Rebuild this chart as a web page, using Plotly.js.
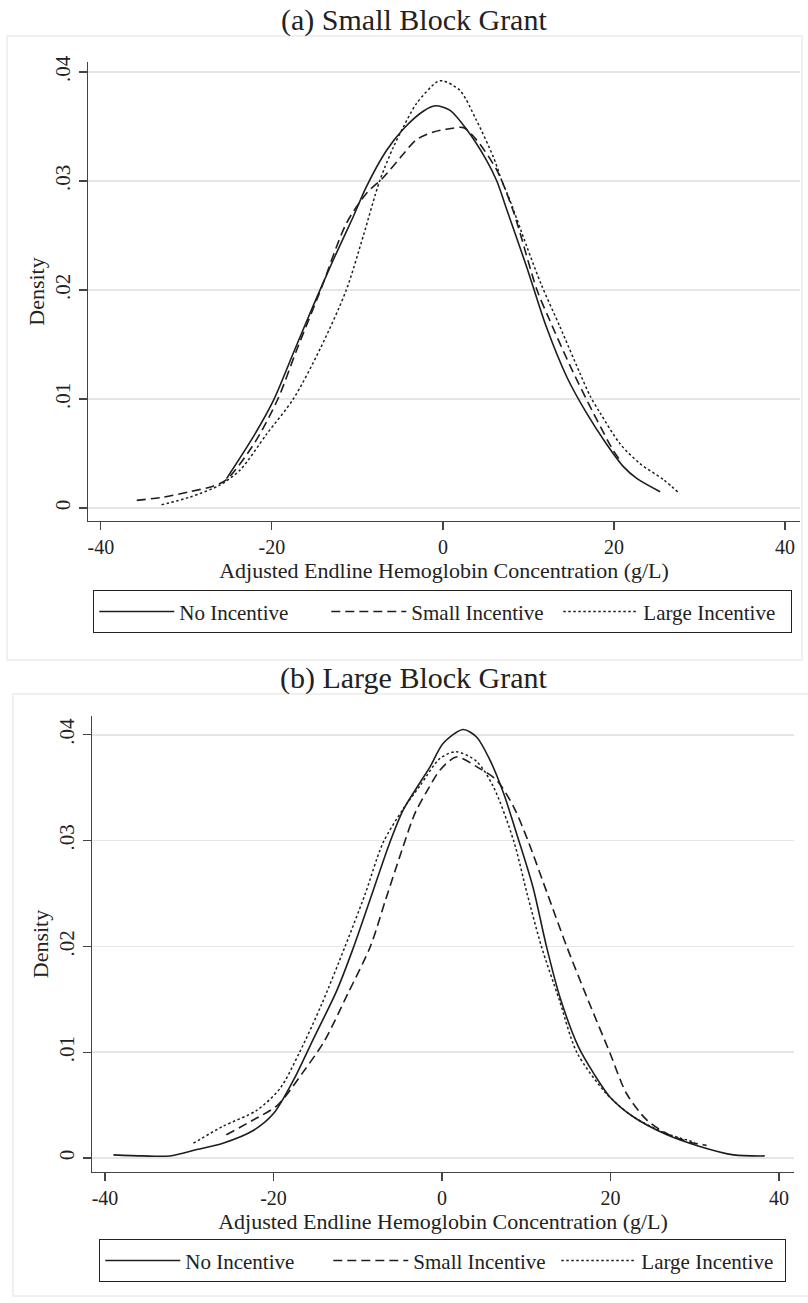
<!DOCTYPE html>
<html>
<head>
<meta charset="utf-8">
<script src="https://cdn.plot.ly/plotly-3.0.1.min.js"></script>
<style>html,body{margin:0;padding:0;background:#fff;}#chart{width:808px;height:1303px;}</style>
</head>
<body>
<div id="chart"></div>
<script>
// ---------- Data ----------
var seriesNames = ["No Incentive", "Small Incentive", "Large Incentive"];
var xTickVals = [-40, -20, 0, 20, 40];
var xTickText = ["-40", "-20", "0", "20", "40"];
var yTickVals = [0, 0.01, 0.02, 0.03, 0.04];
var yTickText = ["0", ".01", ".02", ".03", ".04"];
var panelTitles = ["(a) Small Block Grant", "(b) Large Block Grant"];
var xTitle = "Adjusted Endline Hemoglobin Concentration (g/L)";
var yTitle = "Density";

// Panel (a) Small Block Grant
var aNoX = [-25.3, -22.2, -19.8, -17.5, -15.2, -12.8, -10.5, -9.0, -6.6, -4.6, -2.3, -0.9, 0.8, 2.8, 5.1, 6.3, 7.5, 9.8, 12.1, 14.5, 16.8, 19.1, 21.1, 22.7, 25.4];
var aNoY = [0.0027, 0.0065, 0.0099, 0.0142, 0.0185, 0.0228, 0.0267, 0.0294, 0.0328, 0.0348, 0.0364, 0.0369, 0.0365, 0.0347, 0.0319, 0.0300, 0.0273, 0.0221, 0.0166, 0.0120, 0.0087, 0.0059, 0.0038, 0.0027, 0.0015];

var aSmallX = [-35.8, -32.7, -29.6, -26.9, -25.3, -22.0, -19.3, -17.1, -14.3, -11.3, -8.9, -7.0, -4.6, -3.1, -1.1, 0.8, 2.4, 3.9, 6.3, 8.2, 11.0, 12.5, 14.9, 17.6, 19.9, 20.7];
var aSmallY = [0.0007, 0.0010, 0.0015, 0.0020, 0.0026, 0.0060, 0.0100, 0.0145, 0.0200, 0.0261, 0.0289, 0.0303, 0.0325, 0.0338, 0.0345, 0.0348, 0.0349, 0.0338, 0.0310, 0.0273, 0.0200, 0.0172, 0.0130, 0.0087, 0.0053, 0.0044];

var aLargeX = [-32.9, -29.6, -26.1, -23.7, -20.6, -17.5, -14.3, -11.3, -9.3, -7.4, -5.8, -4.6, -3.1, -0.7, 0.0, 2.0, 3.9, 5.9, 6.9, 7.8, 9.8, 11.5, 13.7, 16.0, 17.2, 18.4, 20.7, 23.0, 25.8, 27.7];
var aLargeY = [0.0003, 0.0010, 0.0021, 0.0035, 0.0068, 0.0100, 0.0147, 0.0200, 0.0250, 0.0300, 0.0331, 0.0350, 0.0371, 0.0391, 0.0392, 0.0383, 0.0356, 0.0322, 0.0300, 0.0283, 0.0240, 0.0205, 0.0166, 0.0124, 0.0103, 0.0087, 0.0059, 0.0041, 0.0026, 0.0013];

// Panel (b) Large Block Grant
var bNoX = [-39.0, -35.5, -32.3, -29.1, -26.0, -22.4, -20.0, -17.6, -15.3, -12.5, -10.6, -8.5, -6.2, -4.6, -3.0, -1.4, 0.15, 2.5, 4.1, 5.7, 7.3, 9.0, 10.8, 12.4, 14.0, 16.2, 18.0, 19.9, 22.7, 26.7, 30.6, 34.6, 38.3];
var bNoY = [0.0003, 0.0002, 0.0002, 0.0008, 0.0014, 0.0026, 0.0042, 0.0074, 0.0112, 0.0158, 0.0197, 0.0245, 0.0298, 0.0329, 0.0350, 0.0370, 0.0392, 0.0405, 0.0398, 0.0376, 0.0345, 0.0303, 0.0256, 0.0200, 0.0152, 0.0105, 0.0080, 0.0058, 0.0039, 0.0022, 0.0011, 0.0003, 0.0002];

var bSmallX = [-25.6, -22.4, -19.5, -16.6, -14.0, -11.2, -8.5, -6.7, -4.8, -3.2, -1.7, -0.2, 1.7, 4.1, 6.5, 8.5, 10.2, 12.5, 14.8, 17.3, 19.9, 21.9, 24.3, 26.7, 29.4, 31.4];
var bSmallY = [0.0022, 0.0036, 0.0050, 0.0080, 0.0110, 0.0155, 0.0200, 0.0244, 0.0290, 0.0326, 0.0348, 0.0367, 0.0379, 0.0370, 0.0357, 0.0332, 0.0300, 0.0250, 0.0200, 0.0150, 0.0100, 0.0061, 0.0036, 0.0023, 0.0015, 0.0012];

var bLargeX = [-29.5, -26.0, -22.0, -19.2, -16.9, -14.3, -11.5, -9.1, -7.0, -4.6, -2.6, -0.2, 1.7, 4.1, 6.1, 8.5, 10.1, 11.8, 13.9, 16.0, 19.5, 22.7, 26.7, 30.0];
var bLargeY = [0.0014, 0.0030, 0.0045, 0.0066, 0.0100, 0.0145, 0.0200, 0.0250, 0.0298, 0.0330, 0.0352, 0.0378, 0.0384, 0.0375, 0.0351, 0.0300, 0.0250, 0.0200, 0.0150, 0.0100, 0.0061, 0.0039, 0.0023, 0.0015];

// ---------- Figure ----------
var W = 808, H = 1303;
function px(x) { return x / W; }
function py(y) { return 1 - y / H; }

var ink = "#1e1e1e";
var styles = [
  {color: ink, width: 1.6, dash: "solid"},
  {color: ink, width: 1.6, dash: "9px,5px"},
  {color: ink, width: 1.5, dash: "2.5px,2.5px"}
];

function mk(x, y, i, xa, ya, leg) {
  return {
    x: x, y: y, type: "scatter", mode: "lines",
    name: seriesNames[i],
    line: {color: styles[i].color, width: styles[i].width, dash: styles[i].dash, shape: "spline", smoothing: 0.8},
    xaxis: xa, yaxis: ya, legend: leg, hoverinfo: "skip"
  };
}

var data = [
  mk(aNoX, aNoY, 0, "x", "y", "legend"),
  mk(aSmallX, aSmallY, 1, "x", "y", "legend"),
  mk(aLargeX, aLargeY, 2, "x", "y", "legend"),
  mk(bNoX, bNoY, 0, "x2", "y2", "legend2"),
  mk(bSmallX, bSmallY, 1, "x2", "y2", "legend2"),
  mk(bLargeX, bLargeY, 2, "x2", "y2", "legend2")
];

var fontFam = "Liberation Serif, Times New Roman, serif";
var axisCol = "#444";
var txtCol = "#222";

function xAxis(domain, range, anchor) {
  return {
    domain: domain, range: range, anchor: anchor,
    tickmode: "array", tickvals: xTickVals, ticktext: xTickText,
    ticks: "outside", ticklen: 8, tickwidth: 1.2, tickcolor: axisCol,
    showline: true, linecolor: axisCol, linewidth: 1.3,
    showgrid: false, zeroline: false,
    tickfont: {size: 20, family: fontFam, color: txtCol},
    title: {text: xTitle, font: {size: 22, family: fontFam, color: txtCol}, standoff: 0},
    automargin: false, fixedrange: true
  };
}
function yAxis(domain, range, anchor) {
  return {
    domain: domain, range: range, anchor: anchor,
    tickmode: "array", tickvals: yTickVals, ticktext: yTickText, tickangle: -90,
    ticks: "outside", ticklen: 8, tickwidth: 1.2, tickcolor: axisCol,
    showline: true, linecolor: axisCol, linewidth: 1.3,
    showgrid: true, gridcolor: "#e6e6e6", gridwidth: 1.5, zeroline: false,
    tickfont: {size: 21, family: fontFam, color: txtCol},
    title: {text: yTitle, font: {size: 22, family: fontFam, color: txtCol}, standoff: 0},
    automargin: false, fixedrange: true
  };
}

var legendBase = {
  orientation: "h", xanchor: "left", yanchor: "top",
  bordercolor: "#222", borderwidth: 1.3, bgcolor: "#fff",
  font: {size: 21, family: fontFam, color: txtCol},
  itemwidth: 75,
  entrywidthmode: "pixels", traceorder: "normal",
  itemclick: false, itemdoubleclick: false
};

var layout = {
  width: W, height: H,
  margin: {l: 0, r: 0, t: 0, b: 0},
  paper_bgcolor: "#fff", plot_bgcolor: "#fff",
  font: {family: fontFam, color: txtCol},
  xaxis: xAxis([px(88), px(800)], [-41.5, 41.75], "y"),
  yaxis: yAxis([py(521), py(62)], [-0.00119, 0.04092], "x"),
  xaxis2: xAxis([px(92), px(794)], [-41.54, 41.78], "y2"),
  yaxis2: yAxis([py(1172), py(716)], [-0.00132, 0.04178], "x2"),
  legend: Object.assign({}, legendBase, {x: px(93), y: py(590), entrywidth: 142}),
  legend2: Object.assign({}, legendBase, {x: px(99), y: py(1239), entrywidth: 138}),
  annotations: [
    {text: panelTitles[0], xref: "paper", yref: "paper", x: px(414), y: py(20), xanchor: "center", yanchor: "middle", showarrow: false, font: {size: 30, family: fontFam, color: txtCol}},
    {text: panelTitles[1], xref: "paper", yref: "paper", x: px(414), y: py(678), xanchor: "center", yanchor: "middle", showarrow: false, font: {size: 30, family: fontFam, color: txtCol}}
  ],
  shapes: [
    {type: "rect", xref: "paper", yref: "paper", x0: px(7), x1: px(802), y0: py(660), y1: py(36), line: {color: "#ececec", width: 1.5}, layer: "below"},
    {type: "rect", xref: "paper", yref: "paper", x0: px(13), x1: px(815), y0: py(1296), y1: py(694), line: {color: "#ececec", width: 1.5}, layer: "below"}
  ],
  showlegend: true
};

Plotly.newPlot("chart", data, layout, {displayModeBar: false, staticPlot: true});
</script>
</body>
</html>
